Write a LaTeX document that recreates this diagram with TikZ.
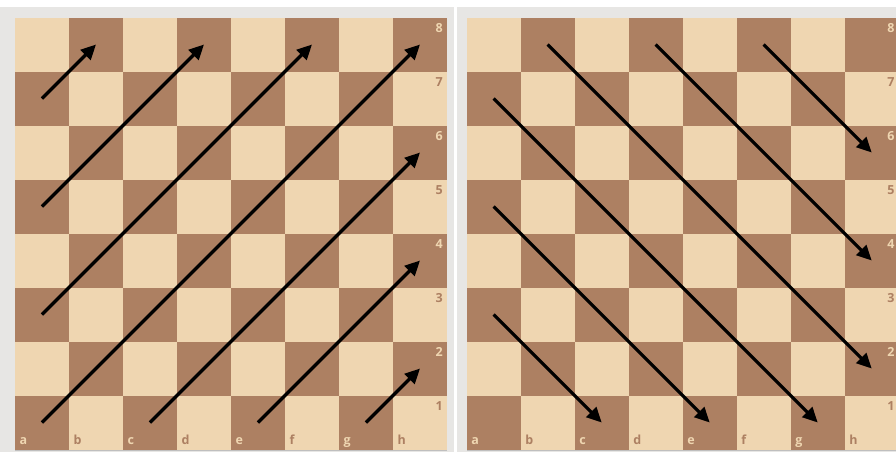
\documentclass[tikz,border=0pt]{standalone}
\usepackage{fontspec}
\setsansfont{Open Sans}
\usetikzlibrary{arrows.meta}
\definecolor{lightsq}{HTML}{EFD6B1}
\definecolor{darksq}{HTML}{AD8062}
\definecolor{panel}{HTML}{E7E6E4}
\begin{document}
\begin{tikzpicture}[x=1pt,y=-1pt,
  mv/.style={line width=3.2pt,-{Triangle[length=15pt,width=14pt]}},
  lbl/.style={font=\sffamily\bfseries\fontsize{12.5}{12.5}\selectfont,inner sep=0pt}]
\useasboundingbox (0,0) rectangle (896,455);
\fill[white] (0,0) rectangle (896,455);
\fill[panel] (0,7) rectangle (454,452);
\fill[panel] (457.3,7) rectangle (896,452);
\begin{scope}
\clip (0,0) rectangle (896,455);
\foreach \bx/\nm in {15/L,466.7/R}{
  \fill[black!25] (\bx,18.5) rectangle ({\bx+432},450.5);
  \foreach \f in {1,...,8}{
    \foreach \r in {1,...,8}{
      \pgfmathtruncatemacro\p{mod(\f+\r,2)}
      \ifnum\p=0 \def\sq{darksq}\def\tx{lightsq}\else\def\sq{lightsq}\def\tx{darksq}\fi
      \fill[\sq] ({\bx+(\f-1)*54},{17.5+(8-\r)*54}) rectangle ++(54,54);
      \coordinate (\nm-\f\r) at ({\bx+(\f-1)*54+27},{17.5+(8-\r)*54+27});
      \ifnum\r=1
        \node[lbl,text=\tx,anchor=base west] (\nm-file\f) at ({\bx+(\f-1)*54+4.5},444.5)
          {\ifcase\f\or a\or b\or c\or d\or e\or f\or g\or h\fi};
      \fi
      \ifnum\f=8
        \node[lbl,text=\tx,anchor=north east] (\nm-rank\r) at ({\bx+432-4},{17.5+(8-\r)*54+5.5}) {\r};
      \fi
    }
  }
}
\end{scope}
% left board arrows
\draw[mv] (L-17) -- (L-28);
\draw[mv] (L-15) -- (L-48);
\draw[mv] (L-13) -- (L-68);
\draw[mv] (L-11) -- (L-88);
\draw[mv] (L-31) -- (L-86);
\draw[mv] (L-51) -- (L-84);
\draw[mv] (L-71) -- (L-82);
% right board arrows
\draw[mv] (R-13) -- (R-31);
\draw[mv] (R-15) -- (R-51);
\draw[mv] (R-17) -- (R-71);
\draw[mv] (R-28) -- (R-82);
\draw[mv] (R-48) -- (R-84);
\draw[mv] (R-68) -- (R-86);
\end{tikzpicture}
\end{document}
